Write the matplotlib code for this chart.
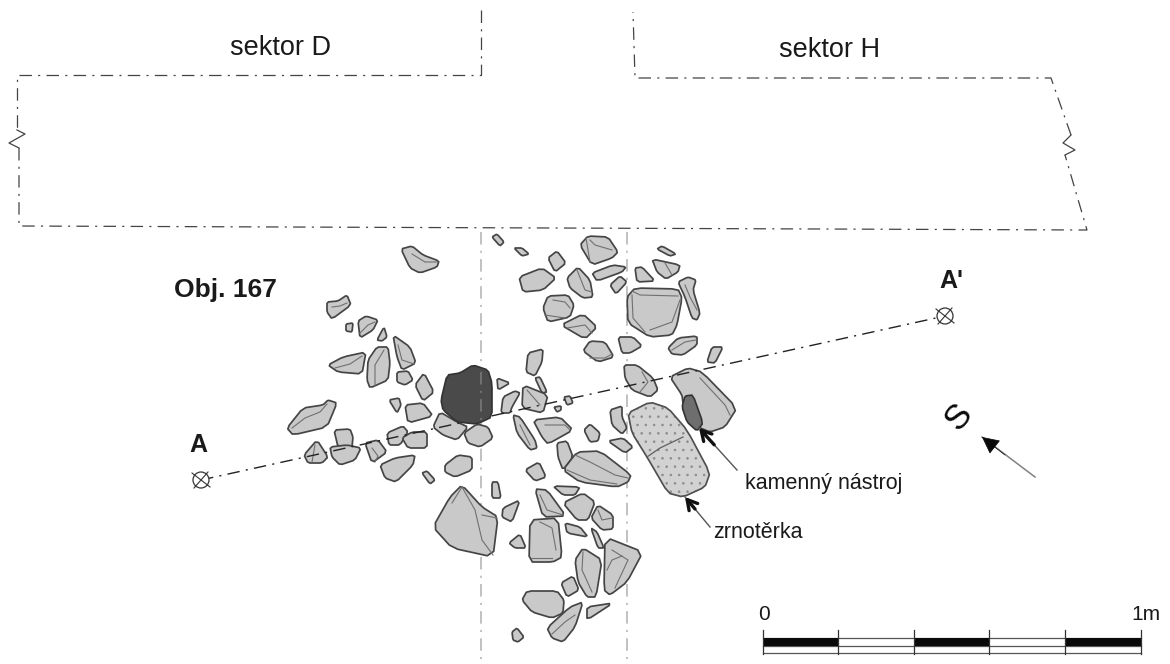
import matplotlib
matplotlib.use("Agg")
import matplotlib.pyplot as plt
from matplotlib.patches import Polygon, Circle

plt.rcParams['font.family'] = ['Liberation Sans', 'DejaVu Sans']
plt.rcParams['lines.scale_dashes'] = False
plt.rcParams['hatch.linewidth'] = 0.6

# Kameny, obrysy odectene z plánu (x, y v pixelech obrazku)
stones = [
    [(401,249),(412,246),(423,255),(439,261),(437,267),(420,273),(410,268)],
    [(327,302),(338,301),(347,295),(351,305),(332,319),(327,312)],
    [(346,324),(353,323),(352,332),(346,331)],
    [(358,321),(366,316),(378,320),(373,330),(360,338)],
    [(377,340),(384,327),(387,337),(382,341)],
    [(393,335),(410,347),(416,363),(402,370),(397,357)],
    [(328,365),(343,357),(366,352),(362,374),(338,372)],
    [(377,347),(388,347),(390,363),(388,380),(370,388),(367,380),(368,360)],
    [(397,372),(408,371),(413,380),(405,385),(397,382)],
    [(415,385),(424,373),(434,392),(423,401)],
    [(389,400),(399,398),(401,405),(397,413)],
    [(405,405),(423,403),(433,416),(408,423)],
    [(433,427),(440,412),(457,422),(468,427),(457,440),(443,435)],
    [(464,433),(477,424),(488,427),(493,438),(480,447),(468,443)],
    [(287,428),(303,408),(323,405),(328,400),(337,403),(327,427),(293,435)],
    [(334,430),(350,429),(353,437),(352,447),(338,447)],
    [(330,447),(347,445),(361,448),(355,460),(340,465),(332,457)],
    [(304,455),(317,440),(328,457),(322,463),(308,463)],
    [(365,443),(378,440),(387,452),(372,463)],
    [(387,433),(403,426),(408,432),(400,445),(389,445)],
    [(402,438),(412,432),(427,432),(427,448),(408,448)],
    [(380,465),(395,458),(415,455),(413,465),(396,482),(385,478)],
    [(445,465),(458,455),(472,457),(472,470),(455,477),(445,472)],
    [(422,473),(427,471),(435,480),(430,484)],
    [(492,237),(497,234),(504,242),(500,246)],
    [(514,248),(522,248),(529,254),(522,256)],
    [(548,258),(557,251),(566,263),(555,272)],
    [(519,277),(542,268),(556,278),(543,290),(523,292)],
    [(567,278),(578,267),(590,280),(593,297),(583,298),(570,288)],
    [(580,245),(588,236),(608,237),(618,252),(612,258),(592,265)],
    [(592,273),(613,265),(626,267),(622,272),(597,281)],
    [(610,285),(620,276),(627,282),(616,294)],
    [(543,308),(548,296),(568,295),(574,305),(570,317),(548,322)],
    [(561,325),(583,314),(597,327),(585,339)],
    [(583,351),(590,341),(605,342),(614,357),(598,362)],
    [(618,337),(633,337),(642,346),(630,353),(622,353)],
    [(635,268),(642,267),(655,281),(637,282)],
    [(657,249),(662,246),(676,254),(670,256)],
    [(652,259),(680,265),(678,272),(666,279),(657,272)],
    [(678,282),(688,277),(696,280),(693,290),(700,313),(697,320),(692,318),(685,297)],
    [(627,297),(635,288),(678,289),(682,298),(677,325),(672,335),(650,337),(628,323)],
    [(668,348),(678,338),(697,336),(697,345),(683,355),(672,354)],
    [(712,347),(723,347),(715,363),(707,362)],
    [(528,353),(543,349),(542,362),(535,376),(526,372)],
    [(497,378),(510,383),(498,390)],
    [(535,378),(540,377),(547,392),(542,393)],
    [(501,413),(503,397),(515,391),(520,393),(512,407),(510,413)],
    [(523,385),(548,395),(543,413),(522,408)],
    [(554,407),(561,406),(561,410),(557,412)],
    [(564,397),(570,396),(573,403),(567,405)],
    [(624,365),(637,365),(653,378),(658,390),(650,397),(632,390),(625,378)],
    [(670,377),(688,368),(702,372),(737,408),(725,427),(710,432),(698,427),(683,403),(682,395)],
    [(513,415),(520,417),(535,440),(537,448),(530,450),(517,433)],
    [(533,420),(560,417),(573,430),(548,444),(542,437)],
    [(584,430),(590,424),(600,433),(598,441),(590,442)],
    [(610,410),(622,406),(622,417),(627,428),(622,434),(612,425)],
    [(608,441),(623,438),(633,447),(625,453)],
    [(557,443),(567,441),(573,457),(563,470),(558,457)],
    [(563,470),(577,452),(600,451),(631,475),(628,482),(617,487),(580,482)],
    [(525,470),(539,462),(546,477),(535,481)],
    [(492,482),(498,482),(501,498),(492,498)],
    [(553,486),(580,487),(575,495),(563,495)],
    [(535,489),(547,490),(566,516),(543,517)],
    [(563,503),(583,493),(595,502),(588,520),(577,520)],
    [(591,518),(598,505),(613,515),(613,529),(602,530)],
    [(503,508),(520,500),(512,522),(502,517)],
    [(530,520),(558,518),(562,557),(553,562),(529,562)],
    [(565,523),(580,527),(588,537),(567,533)],
    [(591,528),(597,532),(604,548),(598,548)],
    [(509,543),(520,534),(526,548),(515,548)],
    [(433,527),(450,497),(462,485),(482,507),(498,517),(493,557),(452,548)],
    [(575,560),(583,548),(602,560),(596,597),(587,597),(578,582)],
    [(605,537),(643,552),(627,582),(610,595),(604,590)],
    [(561,583),(573,576),(579,590),(567,597)],
    [(522,600),(527,591),(557,591),(564,600),(563,613),(552,618),(532,612)],
    [(587,607),(613,603),(587,620)],
    [(547,628),(570,607),(583,602),(575,627),(563,642),(552,638)],
    [(512,632),(517,628),(524,637),(518,642),(513,640)],
]

dark_stone = [(441,400),(447,375),(460,373),(473,365),(488,370),(492,383),(492,417),(477,424),(457,422),(443,410)]
tool_stone = [(682,407),(685,396),(693,395),(703,423),(697,431),(687,422)]
quern = [(628,413),(650,402),(668,408),(687,430),(710,473),(705,487),(683,497),(668,493),(647,457),(632,433)]
quern_crack = [(647,457),(660,448),(683,437)]

# Vnitrni linie na kamenech
cracks = [
    [(412,254),(425,262),(437,262)],
    [(332,307),(340,306),(347,303)],
    [(360,333),(368,325),(375,322)],
    [(398,345),(402,360),(414,364)],
    [(335,368),(350,364),(362,356)],
    [(384,350),(375,365),(375,385)],
    [(292,428),(305,418),(320,412),(327,404)],
    [(315,445),(312,462)],
    [(372,448),(378,456),(375,462)],
    [(632,291),(640,295),(678,296)],
    [(632,295),(633,318),(645,332)],
    [(650,330),(672,322),(680,300)],
    [(590,240),(595,245),(612,250)],
    [(586,238),(590,262)],
    [(577,270),(585,290),(592,292)],
    [(553,300),(565,302),(570,308)],
    [(545,315),(565,318)],
    [(567,328),(585,325),(592,333)],
    [(590,358),(605,358),(612,354)],
    [(665,263),(672,275)],
    [(685,285),(690,297),(697,310)],
    [(672,350),(685,342),(696,340)],
    [(575,455),(590,462),(615,475),(628,478)],
    [(567,470),(590,480),(617,484)],
    [(545,425),(565,425),(570,430)],
    [(520,425),(530,445)],
    [(540,495),(547,510),(563,515)],
    [(598,510),(602,520),(612,518)],
    [(540,522),(552,528),(556,550)],
    [(531,558),(552,558)],
    [(462,487),(475,510),(482,540),(493,555)],
    [(482,515),(497,518)],
    [(452,503),(462,487)],
    [(583,552),(582,570),(592,592)],
    [(612,550),(620,555),(628,560),(615,588)],
    [(607,570),(612,560),(622,556)],
    [(552,634),(565,622),(575,615)],
    [(700,378),(725,405),(730,415)],
    [(642,372),(648,382),(640,392)],
    [(527,390),(540,405)],
]

# Hranice sektoru a pomocne linie
sector_d = [(481,10),(481,75),(17,75),(17,130)]
sector_d_low = [(19,148),(19,226),(1087,230),(1065,155)]
sector_h = [(1071,135),(1051,78),(635,78),(633,12)]
zigzag_left = [(17,130),(25,134),(9,143),(19,148)]
zigzag_right = [(1071,135),(1063,143),(1075,150),(1065,155)]
guide_left = [(481,232),(481,660)]
guide_right = [(627,232),(627,660)]
section_line = [(201,480),(945,316)]
point_a = (201,480)
point_a2 = (945,316)

# Meritko
scale_ticks = [763,838,914,989,1065,1141]
scale_black = [(763,838),(914,989),(1065,1141)]


def smooth(pts, r=0.14):
    # zaobleni rohu, aby kameny nebyly hranate
    out = []
    n = len(pts)
    for i in range(n):
        x0, y0 = pts[i]
        x1, y1 = pts[(i + 1) % n]
        out.append((x0 + (x1 - x0) * r, y0 + (y1 - y0) * r))
        out.append((x1 - (x1 - x0) * r, y1 - (y1 - y0) * r))
    return out


def line(ax, pts, **kw):
    ax.plot([p[0] for p in pts], [p[1] for p in pts], **kw)


fig = plt.figure(figsize=(11.7, 6.64), dpi=100)
ax = fig.add_axes([0, 0, 1, 1])
ax.set_xlim(0, 1170)
ax.set_ylim(664, 0)
ax.axis('off')

dashdot = (0, (9, 4.5, 1.5, 4.5))

for part in [sector_d, sector_d_low, sector_h]:
    line(ax, part, color='#444444', lw=0.9, ls=dashdot, zorder=1)
for part in [zigzag_left, zigzag_right]:
    line(ax, part, color='#444444', lw=0.9, zorder=1)
for part in [guide_left, guide_right]:
    line(ax, part, color='#b0b0b0', lw=1.1, ls=dashdot, zorder=1)

for s in stones:
    ax.add_patch(Polygon(smooth(s), closed=True, facecolor='#c9c9c9', edgecolor='#454545',
                         lw=1.25, joinstyle='round', zorder=2))
for c in cracks:
    line(ax, c, color='#707070', lw=0.8, zorder=3)

# Zrnoterka
ax.add_patch(Polygon(smooth(quern), closed=True, facecolor='#d2d2d2', edgecolor='#8c8c8c', lw=0, hatch='..', zorder=2))
ax.add_patch(Polygon(smooth(quern), closed=True, facecolor='none', edgecolor='#505050', lw=1.25, zorder=3))
line(ax, quern_crack, color='#606060', lw=0.9, zorder=3)

ax.add_patch(Polygon(smooth(dark_stone), closed=True, facecolor='#4a4a4a', edgecolor='#333333', lw=1.2, zorder=4))
ax.add_patch(Polygon(smooth(tool_stone), closed=True, facecolor='#6e6e6e', edgecolor='#333333', lw=1.2, zorder=4))
line(ax, [(481,372),(481,420)], color='#7c7c7c', lw=1.1, ls=dashdot, zorder=5)

line(ax, section_line, color='#222222', lw=1.0, ls=dashdot, zorder=3.5)
for p in [point_a, point_a2]:
    ax.add_patch(Circle(p, 8, facecolor='white', edgecolor='#333333', lw=0.9, zorder=5))
    line(ax, [(p[0]-9, p[1]-7), (p[0]+9, p[1]+7)], color='#333333', lw=0.8, zorder=6)
    line(ax, [(p[0]-7, p[1]+8), (p[0]+7, p[1]-8)], color='#333333', lw=0.8, zorder=6)

# Sipky
for start, end in [((737,470),(699,428)), ((710,527),(685,497))]:
    line(ax, [start, end], color='#555555', lw=1.0, zorder=6)
    ax.annotate('', xy=end, xytext=(end[0] + (start[0]-end[0])*0.4, end[1] + (start[1]-end[1])*0.4),
                arrowprops=dict(arrowstyle='->,head_length=0.7,head_width=0.4', color='#111111', lw=2.4, shrinkA=0, shrinkB=0),
                zorder=7)

north_start = (1035,477)
north_end = (982,437)
line(ax, [north_start, north_end], color='#808080', lw=1.1, zorder=6)
ax.annotate('', xy=north_end, xytext=(1005,455),
            arrowprops=dict(arrowstyle='-|>,head_length=1.1,head_width=0.55', color='#0a0a0a', fc='#0a0a0a', lw=0.5, shrinkA=0, shrinkB=0),
            zorder=7)

# Meritko
for t in scale_ticks:
    line(ax, [(t,630),(t,654)], color='#333333', lw=0.9, zorder=3)
for y in [638, 646, 653]:
    line(ax, [(763,y),(1141,y)], color='#555555', lw=0.9, zorder=2)
for a, b in scale_black:
    ax.fill_between([a, b], 638, 646, color='#0a0a0a', lw=0, zorder=2.5)

# Popisky
txt = '#1a1a1a'
ax.text(280, 48, 'sektor D', fontsize=19.5, color=txt, ha='center', va='center')
ax.text(830, 50, 'sektor H', fontsize=19.5, color=txt, ha='center', va='center')
ax.text(225, 290, 'Obj. 167', fontsize=19, fontweight='bold', color=txt, ha='center', va='center')
ax.text(198, 445, 'A', fontsize=18, fontweight='bold', color=txt, ha='center', va='center')
ax.text(951, 281, "A'", fontsize=18, fontweight='bold', color=txt, ha='center', va='center')
ax.text(959, 417, 'S', fontsize=25, color='#0a0a0a', ha='center', va='center', rotation=50)
ax.text(745, 483, 'kamenný nástroj', fontsize=15.5, color=txt, ha='left', va='center')
ax.text(713, 532, 'zrnotěrka', fontsize=15.5, color=txt, ha='left', va='center')
ax.text(764, 615, '0', fontsize=15, color=txt, ha='center', va='center')
ax.text(1146, 615, '1m', fontsize=15, color=txt, ha='center', va='center')

fig.savefig('out.png', dpi=100, facecolor='white')
